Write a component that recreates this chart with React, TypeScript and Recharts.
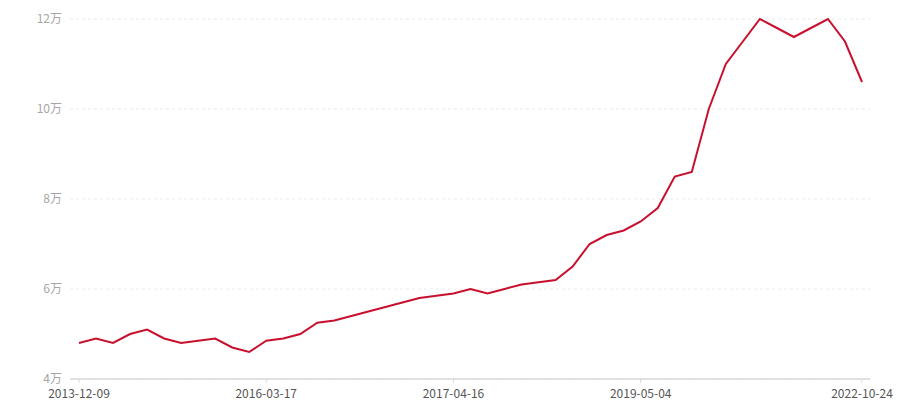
import React from 'react';
import { LineChart, Line, XAxis, YAxis, CartesianGrid } from 'recharts';

const dates: string[] = [
  '2013-12-09', '2014-02-20', '2014-05-08', '2014-07-25', '2014-10-10', '2014-12-26',
  '2015-03-13', '2015-05-29', '2015-08-14', '2015-10-30', '2016-01-01', '2016-03-17',
  '2016-04-22', '2016-05-28', '2016-07-03', '2016-08-08', '2016-09-13', '2016-10-19',
  '2016-11-24', '2016-12-30', '2017-02-04', '2017-03-12', '2017-04-16', '2017-06-21',
  '2017-08-26', '2017-10-31', '2018-01-05', '2018-03-12', '2018-05-17', '2018-07-22',
  '2018-09-26', '2018-12-01', '2019-02-15', '2019-05-04', '2019-08-20', '2019-12-06',
  '2020-03-23', '2020-07-09', '2020-10-25', '2021-02-10', '2021-05-28', '2021-09-13',
  '2021-12-30', '2022-04-17', '2022-06-20', '2022-08-22', '2022-10-24',
];

const prices: number[] = [
  48000, 49000, 48000, 50000, 51000, 49000, 48000, 48500, 49000, 47000, 46000, 48500,
  49000, 50000, 52500, 53000, 54000, 55000, 56000, 57000, 58000, 58500, 59000, 60000,
  59000, 60000, 61000, 61500, 62000, 65000, 70000, 72000, 73000, 75000, 78000, 85000,
  86000, 100000, 110000, 115000, 120000, 118000, 116000, 118000, 120000, 115000, 106000,
];

const xTickLabels: string[] = ['2013-12-09', '2016-03-17', '2017-04-16', '2019-05-04', '2022-10-24'];
const yTicks: number[] = [40000, 60000, 80000, 100000, 120000];

const data = dates.map((d, i) => ({ date: d, price: prices[i] }));

const XTick = (props: any) => {
  const { x, y, payload } = props;
  if (!xTickLabels.includes(payload.value)) return null;
  return (
    <g>
      <line x1={x} x2={x} y1={y - 10} y2={y - 6} stroke="#d9d9d9" strokeWidth={1} />
      <text x={x} y={y} dy="0.71em" textAnchor="middle" fill="#555" fontSize={12}>
        {payload.value}
      </text>
    </g>
  );
};

export default function App() {
  return (
    <div style={{ position: 'absolute', left: 0, top: 0, fontFamily: '"Noto Sans CJK SC", "Noto Sans", sans-serif' }}>
      <LineChart width={900} height={400} data={data} margin={{ top: 19, right: 30, bottom: 0, left: 0 }}>
        <CartesianGrid vertical={false} stroke="#ebebeb" strokeDasharray="3 3" />
        <XAxis
          dataKey="date"
          interval={0}
          height={21}
          tickSize={4}
          tickMargin={6}
          tickLine={false}
          tick={<XTick />}
          axisLine={{ stroke: '#d9d9d9', strokeWidth: 1.5 }}
          padding={{ left: 9, right: 8 }}
        />
        <YAxis
          width={70}
          domain={[40000, 120000]}
          ticks={yTicks}
          axisLine={false}
          tickLine={false}
          tick={{ fill: '#a6a6a6', fontSize: 12 }}
          tickFormatter={(v: number) => `${v / 10000}万`}
        />
        <Line
          type="linear"
          dataKey="price"
          stroke="#c8102e"
          strokeWidth={2}
          dot={false}
          activeDot={false}
          isAnimationActive={false}
        />
      </LineChart>
    </div>
  );
}
